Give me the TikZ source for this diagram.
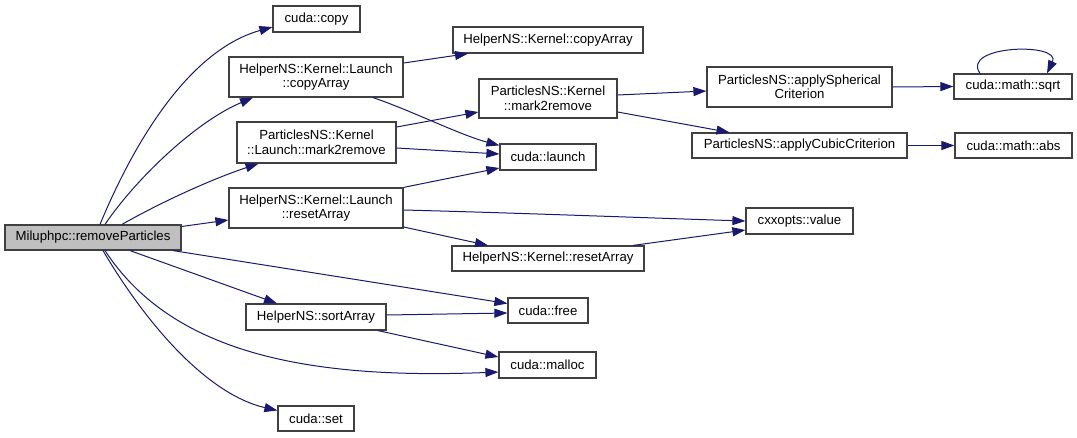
\documentclass[tikz,border=0pt]{standalone}
\usepackage{fontspec}
\setmainfont{Liberation Sans}
\usetikzlibrary{arrows.meta}
\definecolor{edgecol}{RGB}{25,25,112}
\definecolor{boxline}{RGB}{64,64,64}
\definecolor{rootfill}{RGB}{191,191,191}
\begin{document}
\begin{tikzpicture}[x=1pt,y=-1pt,
  fn/.style={draw=boxline, line width=1.2pt, fill=white, inner sep=0pt, align=center,
    font=\fontsize{13.2}{14.5}\selectfont},
  call/.style={draw=edgecol, line width=1pt, -{Triangle[length=13pt,width=9pt]}}]
\useasboundingbox (0,0) rectangle (1077,437);
% nodes
\node[fn, fill=rootfill, minimum width=176pt, minimum height=25pt] (root) at (93,237.5) {Miluphpc::removeParticles};
\node[fn, minimum width=87pt, minimum height=26pt] (copy) at (316.5,19) {cuda::copy};
\node[fn, minimum width=174pt, minimum height=40pt] (lcopy) at (316,77) {HelperNS::Kernel::Launch\\::copyArray};
\node[fn, minimum width=159pt, minimum height=41pt] (lmark) at (316.5,142.5) {ParticlesNS::Kernel\\::Launch::mark2remove};
\node[fn, minimum width=174pt, minimum height=40pt] (lreset) at (316,208) {HelperNS::Kernel::Launch\\::resetArray};
\node[fn, minimum width=140pt, minimum height=26pt] (sort) at (316,317) {HelperNS::sortArray};
\node[fn, minimum width=76pt, minimum height=25pt] (set) at (316,418.5) {cuda::set};
\node[fn, minimum width=190pt, minimum height=26pt] (kcopy) at (548,40) {HelperNS::Kernel::copyArray};
\node[fn, minimum width=138pt, minimum height=39pt] (kmark) at (548,98.5) {ParticlesNS::Kernel\\::mark2remove};
\node[fn, minimum width=96pt, minimum height=26pt] (launch) at (548,157) {cuda::launch};
\node[fn, minimum width=192pt, minimum height=25pt] (kreset) at (548,258.5) {HelperNS::Kernel::resetArray};
\node[fn, minimum width=80pt, minimum height=25pt] (free) at (548,310.5) {cuda::free};
\node[fn, minimum width=97pt, minimum height=26pt] (malloc) at (547.5,365) {cuda::malloc};
\node[fn, minimum width=185pt, minimum height=40pt] (sph) at (799.5,87) {ParticlesNS::applySpherical\\Criterion};
\node[fn, minimum width=215pt, minimum height=25pt] (cubic) at (799.5,145.5) {ParticlesNS::applyCubicCriterion};
\node[fn, minimum width=118pt, minimum height=25pt] (sqrt) at (1013,86.5) {cuda::math::sqrt};
\node[fn, minimum width=117pt, minimum height=25pt] (abs) at (1013.5,145.5) {cuda::math::abs};
\node[fn, minimum width=107pt, minimum height=26pt] (value) at (799.5,221) {cxxopts::value};
% edges from root
\draw[call] ([xshift=7pt]root.north) .. controls (135,140) and (190,50) .. ([yshift=-8pt]copy.west);
\draw[call] ([xshift=12pt]root.north) .. controls (135,180) and (195,122) .. ([xshift=-63pt]lcopy.south);
\draw[call] ([xshift=29pt]root.north) .. controls (165,200) and (215,178) .. ([xshift=-58pt]lmark.south);
\draw[call] ([yshift=11pt]root.east) -- ([yshift=-12pt]lreset.west);
\draw[call] ([xshift=80pt]root.south) -- ([yshift=7pt]free.west);
\draw[call] ([xshift=37pt]root.south) -- ([xshift=-39pt]sort.north);
\draw[call] ([xshift=12pt]root.south) .. controls (170,350) and (300,380) .. ([yshift=-7pt]malloc.west);
\draw[call] ([xshift=10pt]root.south) .. controls (150,330) and (210,395) .. ([yshift=8pt]set.west);
% second level
\draw[call] ([yshift=14pt]lcopy.east) -- ([xshift=-80pt]kcopy.south);
\draw[call] ([xshift=57pt]lcopy.south) .. controls (410,110) and (460,135) .. ([yshift=-2pt]launch.north west);
\draw[call] ([yshift=15.5pt]lmark.east) -- ([yshift=-13.5pt]kmark.west);
\draw[call] ([yshift=-5.5pt]lmark.east) -- ([yshift=3pt]launch.west);
\draw[call] (lreset.north east) -- ([yshift=-11pt]launch.west);
\draw[call] ([yshift=-2pt]lreset.east) .. controls (520,213) and (650,218) .. (value.west);
\draw[call] ([yshift=-19pt]lreset.east) -- ([xshift=-60pt]kreset.north);
\draw[call] ([xshift=85pt]kreset.north) -- ([yshift=-9pt]value.west);
\draw[call] ([yshift=2pt]sort.east) -- ([yshift=-2.5pt]free.west);
\draw[call] ([xshift=62pt]sort.south) -- ([yshift=8pt]malloc.west);
% third level
\draw[call] ([yshift=3.5pt]kmark.east) -- ([yshift=-4pt]sph.west);
\draw[call] ([yshift=-13.5pt]kmark.east) -- ([xshift=-70pt]cubic.north);
\draw[call] (sph.east) -- (sqrt.west);
\draw[call] (cubic.east) -- (abs.west);
\draw[call] ([xshift=-33pt]sqrt.north) .. controls (960,45) and (1062,42) .. ([xshift=34pt]sqrt.north);
\end{tikzpicture}
\end{document}
